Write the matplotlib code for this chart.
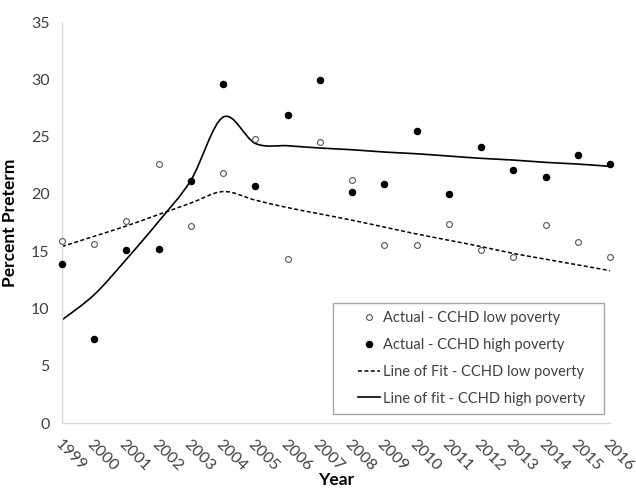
import numpy as np
import matplotlib
matplotlib.use("Agg")
import matplotlib.pyplot as plt
from matplotlib.path import Path
from matplotlib.patches import PathPatch, Rectangle
from matplotlib.lines import Line2D
import matplotlib.transforms as mtransforms

years = list(range(1999, 2017))
low_actual = [15.9, 15.6, 17.6, 22.6, 17.2, 21.8, 24.8, 14.3, 24.5, 21.2,
              15.5, 15.5, 17.4, 15.1, 14.5, 17.3, 15.8, 14.5]
high_actual = [13.9, 7.3, 15.1, 15.2, 21.1, 29.6, 20.7, 26.9, 29.9, 20.2,
               20.9, 25.5, 20.0, 24.1, 22.1, 21.5, 23.4, 22.6]
low_fit = [15.4, 16.3, 17.2, 18.2, 19.2, 20.2, 19.45, 18.8, 18.25, 17.7,
           17.1, 16.5, 15.95, 15.4, 14.8, 14.3, 13.8, 13.3]
high_fit = [9.0, 11.2, 14.3, 17.6, 21.2, 26.7, 24.4, 24.2, 24.0, 23.85,
            23.65, 23.5, 23.3, 23.1, 22.95, 22.75, 22.6, 22.4]

FONT = "Lato"
TXT = "#404040"
plt.rcParams["font.family"] = [FONT, "DejaVu Sans"]


def smooth_path(x, y):
    # Excel-style smoothed line: Catmull-Rom segments as cubic Beziers
    x = np.asarray(x, float)
    y = np.asarray(y, float)
    n = len(x)
    verts = [(x[0], y[0])]
    codes = [Path.MOVETO]
    for i in range(n - 1):
        p0 = i - 1 if i > 0 else i
        p3 = i + 2 if i + 2 < n else i + 1
        c1 = (x[i] + (x[i + 1] - x[p0]) / 6, y[i] + (y[i + 1] - y[p0]) / 6)
        c2 = (x[i + 1] - (x[p3] - x[i]) / 6, y[i + 1] - (y[p3] - y[i]) / 6)
        verts += [c1, c2, (x[i + 1], y[i + 1])]
        codes += [Path.CURVE4] * 3
    return Path(verts, codes)


fig = plt.figure(figsize=(6.36, 4.94), dpi=100)
ax = fig.add_axes([62 / 636, 1 - 423 / 494, 548 / 636, 401 / 494])

ax.add_patch(PathPatch(smooth_path(years, low_fit), fill=False, color="black",
                       lw=1.1, linestyle=(0, (2.6, 1.6))))
ax.add_patch(PathPatch(smooth_path(years, high_fit), fill=False, color="black",
                       lw=1.2))
ax.plot(years, low_actual, "o", ms=4.2, mfc="white", mec="#555555", mew=0.8,
        clip_on=False, zorder=3)
ax.plot(years, high_actual, "o", ms=4.4, mfc="black", mec="black",
        clip_on=False, zorder=3)

ax.set_xlim(1999, 2016)
ax.set_ylim(0, 35)
ax.set_yticks(range(0, 36, 5))
ax.set_xticks(years)
ax.set_xticklabels([str(y) for y in years], rotation=-45, ha="left", va="top",
                   rotation_mode="anchor")
off = mtransforms.ScaledTranslation(-5 / 100, 0, fig.dpi_scale_trans)
for lab in ax.get_xticklabels():
    lab.set_transform(lab.get_transform() + off)
ax.tick_params(axis="both", length=0, labelsize=11.5, colors=TXT)
ax.tick_params(axis="x", pad=10)
ax.tick_params(axis="y", pad=9)

for s in ["top", "right"]:
    ax.spines[s].set_visible(False)
for s in ["left", "bottom"]:
    ax.spines[s].set_color("#d9d9d9")
    ax.spines[s].set_linewidth(1.0)

ax.set_ylabel("Percent Preterm", fontsize=12.5, fontweight="bold")
ax.yaxis.set_label_coords(-44 / 548, 0.5)
ax.set_xlabel("Year", fontsize=12.5, fontweight="bold")
ax.xaxis.set_label_coords(0.5, -49 / 401)

handles = [
    Line2D([], [], ls="none", marker="o", ms=4.2, mfc="white", mec="#555555", mew=0.8),
    Line2D([], [], ls="none", marker="o", ms=4.4, mfc="black", mec="black"),
    Line2D([], [], color="black", lw=1.1, ls=(0, (2.6, 1.6))),
    Line2D([], [], color="black", lw=1.2),
]
labels = ["Actual - CCHD low poverty", "Actual - CCHD high poverty",
          "Line of Fit - CCHD low poverty", "Line of fit - CCHD high poverty"]
ax.add_patch(Rectangle((271 / 548, 9 / 401), 271 / 548, 111 / 401,
                       transform=ax.transAxes, fill=False, ec="#a6a6a6",
                       lw=1.0, clip_on=False, zorder=4))
leg = ax.legend(handles, labels, loc="upper left",
                bbox_to_anchor=(296 / 548, 112 / 401),
                frameon=False, fontsize=10.5, handlelength=1.5, handletextpad=0.2,
                labelspacing=0.88, borderpad=0, borderaxespad=0)
for t in leg.get_texts():
    t.set_color(TXT)

fig.savefig("out.png", dpi=100)
